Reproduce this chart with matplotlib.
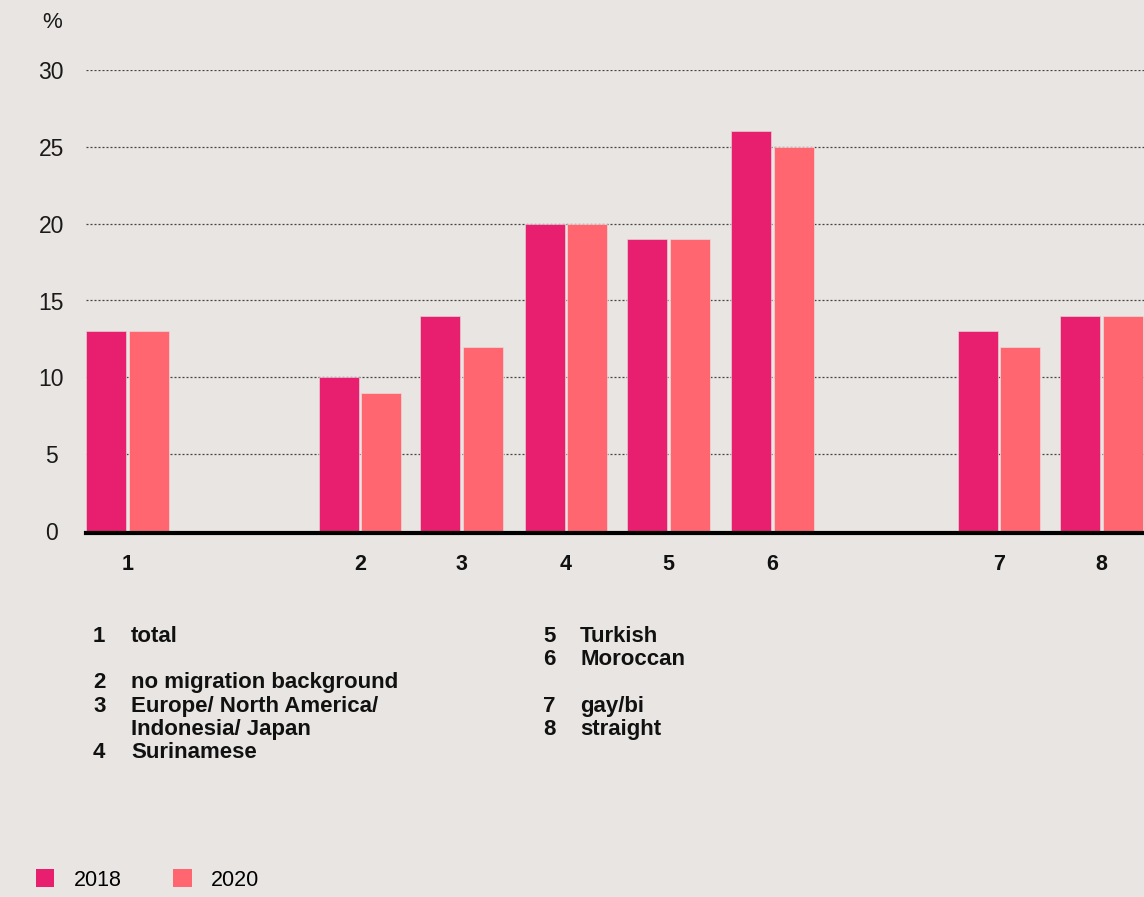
import matplotlib
matplotlib.use("Agg")
import matplotlib.pyplot as plt
from matplotlib.patches import Patch

# Data
categories = ["1", "2", "3", "4", "5", "6", "7", "8"]
values_2018 = [13, 10, 14, 20, 19, 26, 13, 14]
values_2020 = [13, 9, 12, 20, 19, 25, 12, 14]
series_labels = ["2018", "2020"]
y_ticks = [0, 5, 10, 15, 20, 25, 30]

key_left = [("1", "total"), None, ("2", "no migration background"),
            ("3", "Europe/ North America/"), ("", "Indonesia/ Japan"),
            ("4", "Surinamese")]
key_right = [("5", "Turkish"), ("6", "Moroccan"), None,
             ("7", "gay/bi"), ("8", "straight")]

# Layout (group centres along the x axis, with gaps between blocks)
group_pos = [0.401, 2.647, 3.628, 4.638, 5.628, 6.633, 8.821, 9.812]
bar_w = 0.386
offset = 0.207

C2018 = "#E81E6E"
C2020 = "#FF6670"
BG = "#E9E5E2"
FONT = "Liberation Sans"

W, H = 1144, 897
fig = plt.figure(figsize=(W / 100, H / 100), dpi=100, facecolor=BG)
ax = fig.add_axes([86 / W, 1 - 531 / H, (W - 86) / W, (531 - 70) / H])
ax.set_facecolor(BG)

x18 = [p - offset for p in group_pos]
x20 = [p + offset for p in group_pos]
ax.bar(x18, values_2018, width=bar_w, color=C2018, edgecolor="#e3cfd3",
       linewidth=0.5, zorder=2)
ax.bar(x20, values_2020, width=bar_w, color=C2020, edgecolor="#ecd9d9",
       linewidth=0.5, zorder=2)

ax.set_xlim(0, 10.222)
ax.set_ylim(0, 30)

# Dotted gridlines
for t in y_ticks[1:]:
    ax.axhline(t, color="#444444", lw=0.9, ls=(0, (1.6, 1.6)), zorder=1)

for s in ["top", "right", "left"]:
    ax.spines[s].set_visible(False)
ax.spines["bottom"].set_color("black")
ax.spines["bottom"].set_linewidth(3)
ax.spines["bottom"].set_position(("outward", 1.5))
ax.spines["bottom"].set_zorder(3)

ax.set_yticks(y_ticks)
ax.set_yticklabels([str(t) for t in y_ticks], fontsize=16.5, family=FONT,
                   color="#1a1a1a", ha="center", va="center_baseline")
ax.tick_params(axis="y", length=0, pad=25)

ax.set_xticks(group_pos)
ax.set_xticklabels(categories, fontsize=15.5, family=FONT, fontweight="bold",
                   color="#111111")
ax.tick_params(axis="x", length=0, pad=15)

# Unit label
fig.text(52 / W, 1 - 22 / H, "%", fontsize=16, family=FONT, color="#1a1a1a",
         ha="center", va="center")

# Category key
def key_block(rows, x_num, x_txt, y_start, step):
    y = y_start
    for row in rows:
        if row is not None:
            num, txt = row
            fig.text(x_num / W, 1 - y / H, num, fontsize=16, family=FONT,
                     fontweight="bold", color="#111111", va="center")
            fig.text(x_txt / W, 1 - y / H, txt, fontsize=16, family=FONT,
                     fontweight="bold", color="#111111", va="center")
        y += step

key_block(key_left, 93, 131, 636, 23.4)
key_block(key_right, 543, 580, 636, 23.4)

# Series legend
handles = [Patch(facecolor=C2018), Patch(facecolor=C2020)]
fig.legend(handles, series_labels, loc="center left",
           bbox_to_anchor=(36 / W, 1 - 880 / H), ncol=2, frameon=False,
           prop={"family": FONT, "size": 15.5}, handlelength=0.85,
           handleheight=0.85, handletextpad=0.9, columnspacing=2.4,
           borderpad=0, borderaxespad=0)

fig.savefig("out.png", dpi=100, facecolor=BG)
